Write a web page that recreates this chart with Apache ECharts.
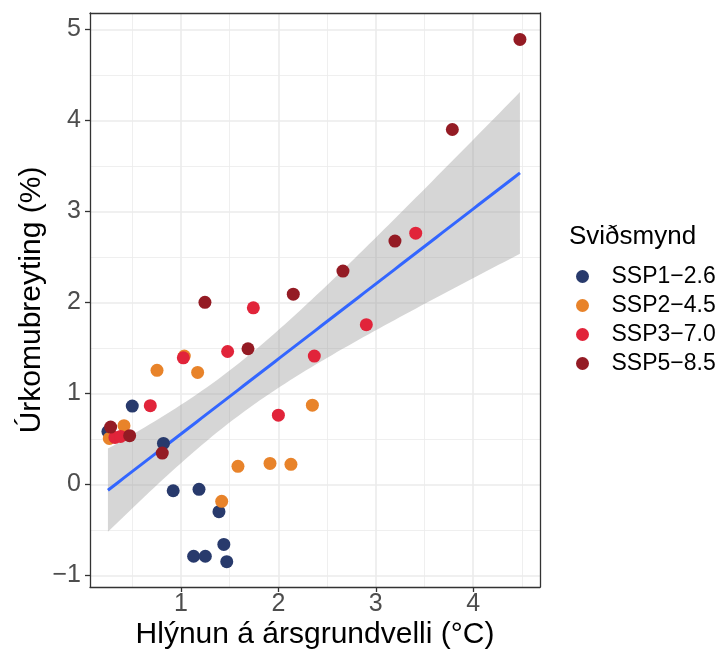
<!DOCTYPE html>
<html><head><meta charset="utf-8">
<script src="https://cdn.jsdelivr.net/npm/echarts@6/dist/echarts.min.js"></script>
<style>html,body{margin:0;padding:0;background:#fff}#c{width:721px;height:652px}</style>
</head><body><div id="c"></div>
<script>
// ---- data ----
const scenarios = ['SSP1−2.6', 'SSP2−4.5', 'SSP3−7.0', 'SSP5−8.5'];
const ssp1X = [0.25, 0.50, 0.82, 0.92, 1.185, 1.39, 1.44, 1.13, 1.25, 1.47];
const ssp1Y = [0.58, 0.86, 0.45, -0.07, -0.055, -0.30, -0.66, -0.79, -0.79, -0.85];
const ssp2X = [0.264, 0.415, 0.754, 1.034, 1.171, 1.418, 1.585, 1.914, 2.129, 2.349];
const ssp2Y = [0.505, 0.645, 1.253, 1.41, 1.23, -0.187, 0.198, 0.23, 0.22, 0.87];
const ssp3X = [0.322, 0.38, 0.685, 1.024, 1.479, 1.743, 2.0, 2.369, 2.903, 3.41];
const ssp3Y = [0.516, 0.527, 0.865, 1.39, 1.46, 1.94, 0.76, 1.41, 1.755, 2.76];
const ssp5X = [0.278, 0.473, 0.808, 1.246, 1.688, 2.153, 2.663, 3.197, 3.786, 4.48];
const ssp5Y = [0.63, 0.535, 0.344, 2.0, 1.49, 2.09, 2.344, 2.674, 3.90, 4.89];
const xTicks = [1, 2, 3, 4];
const xMinor = [0.5, 1.5, 2.5, 3.5, 4.5];
const yTicks = [-1, 0, 1, 2, 3, 4, 5];
const yMinor = [-0.5, 0.5, 1.5, 2.5, 3.5, 4.5];
const xRange = [0.066, 4.686];
const yRange = [-1.128, 5.18];
const colors = ['#283a6c', '#e8832a', '#e1243a', '#941b24'];

// ---- linear fit with 95% confidence band (from the data) ----
const allX = [].concat(ssp1X, ssp2X, ssp3X, ssp5X);
const allY = [].concat(ssp1Y, ssp2Y, ssp3Y, ssp5Y);
const n = allX.length;
const mx = allX.reduce((a, b) => a + b, 0) / n;
const my = allY.reduce((a, b) => a + b, 0) / n;
let sxx = 0, sxy = 0;
for (let i = 0; i < n; i++) { sxx += (allX[i] - mx) ** 2; sxy += (allX[i] - mx) * (allY[i] - my); }
const slope = sxy / sxx, icpt = my - slope * mx;
let sse = 0;
for (let i = 0; i < n; i++) sse += (allY[i] - icpt - slope * allX[i]) ** 2;
const sres = Math.sqrt(sse / (n - 2));
const tq = 2.024; // t(0.975, df=38)
const xlo = Math.min(...allX), xhi = Math.max(...allX);
const fitPts = [], upper = [], lower = [];
for (let k = 0; k < 80; k++) {
  const x = xlo + (xhi - xlo) * k / 79;
  const f = icpt + slope * x;
  const se = sres * Math.sqrt(1 / n + (x - mx) ** 2 / sxx);
  fitPts.push([x, f]); upper.push([x, f + tq * se]); lower.push([x, f - tq * se]);
}

const FONT = 'Liberation Sans, Arial, sans-serif';
const zip = (xs, ys) => xs.map((x, i) => [x, ys[i]]);
const seriesData = [zip(ssp1X, ssp1Y), zip(ssp2X, ssp2Y), zip(ssp3X, ssp3Y), zip(ssp5X, ssp5Y)];
const minus = v => String(v).replace('-', '\u2212');

const chart = echarts.init(document.getElementById('c'), null, { renderer: 'canvas' });
chart.setOption({
  animation: false,
  backgroundColor: '#fff',
  title: { text: 'Sviðsmynd', left: 569, top: 224, padding: 0,
    textStyle: { fontSize: 26, fontWeight: 'normal', color: '#000', fontFamily: FONT } },
  legend: {
    data: scenarios, orient: 'vertical', left: 571, top: 260, icon: 'circle',
    itemWidth: 48, itemHeight: 13, itemGap: 6,
    textStyle: { fontSize: 23, color: '#000', fontFamily: FONT }
  },
  grid: { left: 90, top: 13, right: 181, bottom: 65, containLabel: false, outerBoundsMode: 'none' },
  xAxis: [
    { type: 'value', min: xRange[0], max: xRange[1], position: 'bottom',
      axisLine: { show: true, onZero: false, lineStyle: { color: '#333', width: 1.3 } },
      axisTick: { show: true, length: 5, customValues: xTicks, lineStyle: { color: '#333', width: 1.3 } },
      axisLabel: { customValues: xTicks, color: '#4d4d4d', fontSize: 25, margin: 5, fontFamily: FONT, formatter: minus },
      splitLine: { show: true, lineStyle: { color: '#ebebeb', width: 1.6 } },
      name: 'Hlýnun á ársgrundvelli (°C)', nameLocation: 'middle', nameGap: 33, nameMoveOverlap: false,
      nameTextStyle: { fontSize: 30, color: '#000', fontFamily: FONT } },
    { type: 'value', min: xRange[0], max: xRange[1], position: 'top',
      axisLine: { show: true, onZero: false, lineStyle: { color: '#333', width: 1.3 } },
      axisTick: { show: false, customValues: xMinor },
      axisLabel: { show: false, customValues: xMinor },
      splitLine: { show: true, lineStyle: { color: '#ebebeb', width: 0.8 } } }
  ],
  yAxis: [
    { type: 'value', min: yRange[0], max: yRange[1], position: 'left',
      axisLine: { show: true, onZero: false, lineStyle: { color: '#333', width: 1.3 } },
      axisTick: { show: true, length: 5, customValues: yTicks, lineStyle: { color: '#333', width: 1.3 } },
      axisLabel: { customValues: yTicks, color: '#4d4d4d', fontSize: 25, margin: 9, fontFamily: FONT, formatter: minus },
      splitLine: { show: true, lineStyle: { color: '#ebebeb', width: 1.6 } },
      name: 'Úrkomubreyting (%)', nameLocation: 'middle', nameGap: 43, nameRotate: 90, nameMoveOverlap: false,
      nameTextStyle: { fontSize: 30, color: '#000', fontFamily: FONT } },
    { type: 'value', min: yRange[0], max: yRange[1], position: 'right',
      axisLine: { show: true, onZero: false, lineStyle: { color: '#333', width: 1.3 } },
      axisTick: { show: false, customValues: yMinor },
      axisLabel: { show: false, customValues: yMinor },
      splitLine: { show: true, lineStyle: { color: '#ebebeb', width: 0.8 } } }
  ],
  series: [
    { type: 'custom', name: 'band', silent: true, z: 2, xAxisIndex: 0, yAxisIndex: 0,
      data: [fitPts[40]],
      renderItem: function (params, api) {
        const pts = [];
        for (let k = 0; k < upper.length; k++) pts.push(api.coord(upper[k]));
        for (let k = lower.length - 1; k >= 0; k--) pts.push(api.coord(lower[k]));
        return { type: 'polygon', shape: { points: pts }, style: { fill: 'rgba(153,153,153,0.4)' } };
      } },
    { type: 'line', name: 'fit', data: fitPts, showSymbol: false, silent: true, z: 3,
      lineStyle: { color: '#3366ff', width: 3 } },
    ...scenarios.map((s, i) => ({
      type: 'scatter', name: s, data: seriesData[i], symbol: 'circle', symbolSize: 13, z: 4 + i,
      itemStyle: { color: colors[i], opacity: 1 }
    }))
  ]
});
</script></body></html>
